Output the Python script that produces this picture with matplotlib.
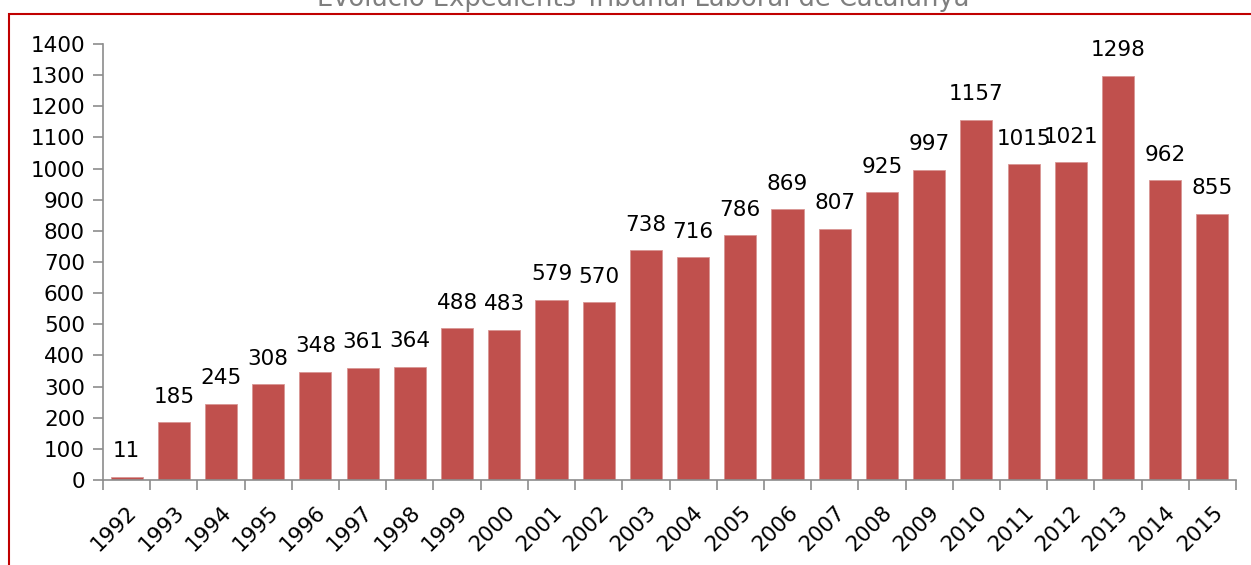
import matplotlib.pyplot as plt
from matplotlib.patches import Rectangle
from matplotlib.transforms import ScaledTranslation

years = [str(y) for y in range(1992, 2016)]
values = [11, 185, 245, 308, 348, 361, 364, 488, 483, 579, 570, 738, 716, 786,
          869, 807, 925, 997, 1157, 1015, 1021, 1298, 962, 855]

fig = plt.figure(figsize=(12.51, 5.65), dpi=100)
ax = fig.add_axes([103/1251, 1 - 480/565, (1236 - 103)/1251, (480 - 44)/565])

x = range(len(years))
bars = ax.bar(x, values, width=0.68, color='#c0504d', edgecolor='#d99694', linewidth=0.6)
ax.bar_label(bars, labels=[str(v) for v in values], padding=11, fontsize=15.5)

ax.set_xlim(-0.5, len(years) - 0.5)
ax.set_ylim(0, 1400)
ax.set_yticks(range(0, 1401, 100))
ax.set_xticks([i - 0.5 for i in range(len(years) + 1)])
ax.set_xticklabels([])
ax.set_xticks(list(x), minor=True)
ax.set_xticklabels(years, minor=True, rotation=45, ha='right', va='top',
                   rotation_mode='anchor', fontsize=15.5)
shift = ScaledTranslation(5/100, 0, fig.dpi_scale_trans)
for lab in ax.get_xticklabels(minor=True):
    lab.set_transform(lab.get_transform() + shift)
ax.tick_params(axis='x', which='minor', length=0, pad=16)
ax.tick_params(axis='x', which='major', length=7, color='#8c8c8c', width=1.2)
ax.tick_params(axis='y', length=7, color='#8c8c8c', width=1.2, labelsize=15.5, pad=6)

for s in ['top', 'right']:
    ax.spines[s].set_visible(False)
for s in ['left', 'bottom']:
    ax.spines[s].set_color('#8c8c8c')
    ax.spines[s].set_linewidth(1.2)

fig.text(0.514, 1 - 6/565, 'Evolució Expedients Tribunal Laboral de Catalunya',
         ha='center', va='baseline', fontsize=18.5, color='#7f7f7f')

fig.patches.append(Rectangle((9/1251, -0.1), 1.2, 1 - 14/565 + 0.1,
                             transform=fig.transFigure, fill=False,
                             edgecolor='#c00000', linewidth=1.5))

fig.savefig('out.png', dpi=100)
